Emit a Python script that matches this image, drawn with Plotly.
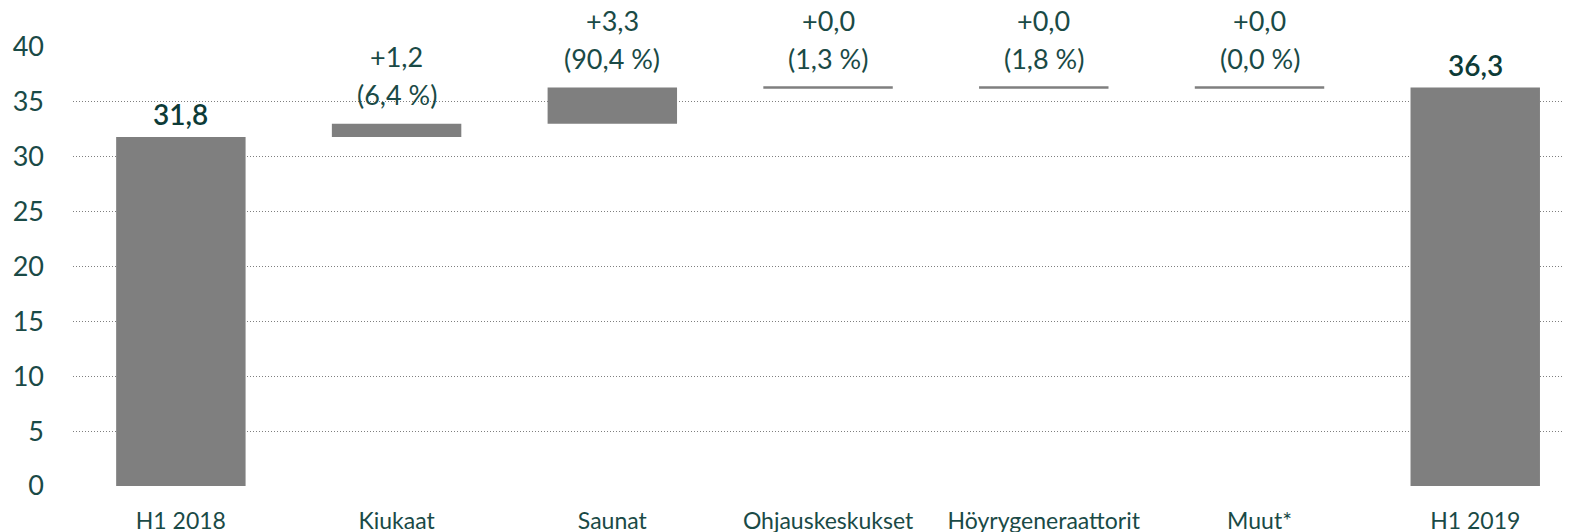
import plotly.graph_objects as go

categories = ["H1 2018", "Kiukaat", "Saunat", "Ohjauskeskukset",
              "Höyrygeneraattorit", "Muut*", "H1 2019"]
measures = ["total", "delta", "delta", "delta", "delta", "delta", "total"]
values = [31.8, 1.2, 3.3, 0.0, 0.0, 0.0, 36.3]
value_labels = ["31,8", "+1,2", "+3,3", "+0,0", "+0,0", "+0,0", "36,3"]
pct_labels = [None, "(6,4 %)", "(90,4 %)", "(1,3 %)", "(1,8 %)", "(0,0 %)", None]
y_ticks = [0, 5, 10, 15, 20, 25, 30, 35, 40]

BAR = "#7f7f7f"
TXT = "#1a4a46"
TXT_TOT = "#0d3b37"
FONT = "Lato"

# compute bases / tops
bases, heights, tops = [], [], []
level = 0.0
for m, v in zip(measures, values):
    if m == "total":
        bases.append(0.0)
        heights.append(v)
        level = v
    else:
        bases.append(level)
        heights.append(v)
        level = level + v
    tops.append(bases[-1] + heights[-1])

fig = go.Figure()
fig.add_trace(go.Bar(
    x=categories, y=heights, base=bases, width=0.6,
    marker=dict(color=BAR, line=dict(width=0)),
    hoverinfo="skip", showlegend=False,
))

shapes = []
annotations = []
for i, (m, v, t) in enumerate(zip(measures, values, tops)):
    if m == "delta" and v == 0:
        shapes.append(dict(type="line", xref="x", yref="y",
                           x0=i - 0.3, x1=i + 0.3, y0=t, y1=t,
                           line=dict(color=BAR, width=2.5), layer="above"))
    if m == "total":
        annotations.append(dict(x=categories[i], y=t, xref="x", yref="y",
                                text=value_labels[i], showarrow=False,
                                yanchor="middle", yshift=23,
                                font=dict(family=FONT, size=28, color=TXT_TOT, weight=600)))
    else:
        annotations.append(dict(x=categories[i], y=t, xref="x", yref="y",
                                text=pct_labels[i], showarrow=False,
                                yanchor="middle", yshift=29,
                                font=dict(family=FONT, size=27, color=TXT)))
        annotations.append(dict(x=categories[i], y=t, xref="x", yref="y",
                                text=value_labels[i], showarrow=False,
                                yanchor="middle", yshift=67,
                                font=dict(family=FONT, size=27, color=TXT)))

fig.update_layout(
    width=1564, height=524,
    margin=dict(l=65, r=4, t=39, b=46, autoexpand=False),
    paper_bgcolor="white", plot_bgcolor="white",
    shapes=shapes, annotations=annotations,
    font=dict(family=FONT, color=TXT),
    xaxis=dict(
        type="category", range=[-0.5, 6.43], automargin=False,
        showgrid=False, showline=False, zeroline=False,
        ticks="", tickfont=dict(family=FONT, size=23, color=TXT),
        ticklabelstandoff=19,
    ),
    yaxis=dict(
        range=[0, 40], tickvals=y_ticks, ticktext=[str(v) for v in y_ticks],
        automargin=False,
        showgrid=True, gridcolor="#7f7f7f", gridwidth=1, griddash="1px,2px",
        zeroline=True, zerolinecolor="white", zerolinewidth=1,
        showline=False, ticks="",
        tickfont=dict(family=FONT, size=27, color=TXT),
        ticklabelstandoff=28,
    ),
)

fig.write_html("out.html")
